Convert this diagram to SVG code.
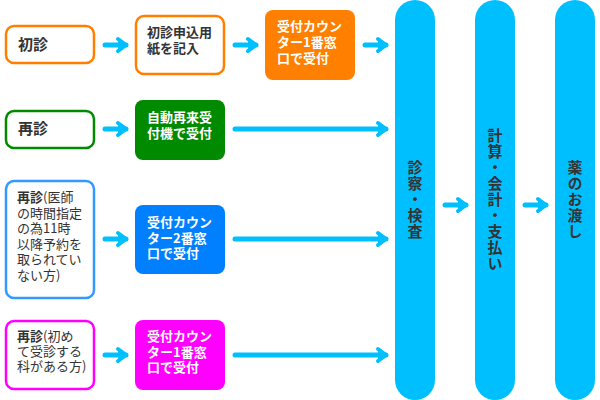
<svg xmlns="http://www.w3.org/2000/svg" width="600" height="400" viewBox="0 0 600 400">
<defs>
<style>
text{font-family:"Noto Sans CJK JP","Noto Sans",sans-serif;font-weight:bold;}
.t{font-size:13px;fill:#333;}
.w{font-size:13px;fill:#fff;}
.h{font-size:15px;fill:#333;}
.n{font-weight:normal;}
.p{font-size:15px;fill:#333;text-anchor:middle;writing-mode:vertical-rl;letter-spacing:1px;}
.ob{fill:#fff;stroke-width:2.5;}
.pill{fill:#00bfff;}
.ar{stroke:#00bfff;stroke-width:5;stroke-linecap:round;fill:none;}
</style>
<marker id="ah" markerUnits="userSpaceOnUse" viewBox="-12 -9 15 18" markerWidth="15" markerHeight="18" refX="0" refY="0" orient="auto">
<polyline points="-8,-6 0,0 -8,6" fill="#00bfff" stroke="#00bfff" stroke-width="4" stroke-linejoin="round" stroke-linecap="round"/>
</marker>
</defs>
<rect width="600" height="400" fill="#fff"/>

<g id="n-shoshin"><rect class="ob" x="6" y="26" width="88" height="37" rx="8" stroke="#ff8000"/><text class="h" x="18" y="50">初診</text></g>
<g id="n-moushikomi"><rect class="ob" x="136" y="16" width="88" height="58" rx="8" stroke="#ff8000"/><text class="t" x="147" y="37">初診申込用</text><text class="t" x="147" y="53">紙を記入</text></g>
<g id="n-counter1a"><rect x="265" y="10" width="90" height="70" rx="8" fill="#ff8000"/><text class="w" x="277" y="31">受付カウン</text><text class="w" x="277" y="47">ター1番窓</text><text class="w" x="277" y="63">口で受付</text></g>

<g id="n-saishin"><rect class="ob" x="6" y="111" width="88" height="37" rx="8" stroke="#008a00"/><text class="h" x="18" y="134">再診</text></g>
<g id="n-jidou"><rect x="135" y="100" width="90" height="60" rx="8" fill="#008a00"/><text class="w" x="147" y="122">自動再来受</text><text class="w" x="147" y="138">付機で受付</text></g>

<g id="n-saishin2"><rect class="ob" x="6" y="181" width="88" height="117" rx="8" stroke="#3399ff"/><text class="t" x="17" y="202">再診<tspan class="n">(医師</tspan></text><text class="t n" x="17" y="217.5">の時間指定</text><text class="t n" x="17" y="233">の為11時</text><text class="t n" x="17" y="248.5">以降予約を</text><text class="t n" x="17" y="264">取られてい</text><text class="t n" x="17" y="279.5">ない方)</text></g>
<g id="n-counter2"><rect x="135" y="205" width="90" height="69" rx="8" fill="#0080ff"/><text class="w" x="147" y="227">受付カウン</text><text class="w" x="147" y="243">ター2番窓</text><text class="w" x="147" y="258">口で受付</text></g>

<g id="n-saishin3"><rect class="ob" x="6" y="321" width="88" height="68" rx="8" stroke="#ff00ff"/><text class="t" x="17" y="341">再診<tspan class="n">(初め</tspan></text><text class="t n" x="17" y="356">て受診する</text><text class="t n" x="17" y="371">科がある方)</text></g>
<g id="n-counter1b"><rect x="135" y="320" width="90" height="70" rx="8" fill="#ff00ff"/><text class="w" x="147" y="341">受付カウン</text><text class="w" x="147" y="357">ター1番窓</text><text class="w" x="147" y="372">口で受付</text></g>

<g id="n-shinsatsu"><rect class="pill" x="395" y="0" width="40" height="400" rx="20"/><text class="p" x="415" y="200">診察・検査</text></g>
<g id="n-kaikei"><rect class="pill" x="475" y="0" width="40" height="400" rx="20"/><text class="p" x="495" y="200">計算・会計・支払い</text></g>
<g id="n-kusuri"><rect class="pill" x="555" y="0" width="40" height="400" rx="20"/><text class="p" x="575" y="200">薬のお渡し</text></g>

<g id="connectors">
<line class="ar" x1="105" y1="45" x2="126" y2="45" marker-end="url(#ah)"/>
<line class="ar" x1="235" y1="45" x2="256" y2="45" marker-end="url(#ah)"/>
<line class="ar" x1="365" y1="45" x2="386" y2="45" marker-end="url(#ah)"/>
<line class="ar" x1="105" y1="129" x2="126" y2="129" marker-end="url(#ah)"/>
<line class="ar" x1="235" y1="129" x2="386" y2="129" marker-end="url(#ah)"/>
<line class="ar" x1="105" y1="239" x2="126" y2="239" marker-end="url(#ah)"/>
<line class="ar" x1="235" y1="239" x2="386" y2="239" marker-end="url(#ah)"/>
<line class="ar" x1="105" y1="355" x2="126" y2="355" marker-end="url(#ah)"/>
<line class="ar" x1="235" y1="355" x2="386" y2="355" marker-end="url(#ah)"/>
<line class="ar" x1="445" y1="205" x2="466" y2="205" marker-end="url(#ah)"/>
<line class="ar" x1="525" y1="205" x2="546" y2="205" marker-end="url(#ah)"/>
</g>
</svg>
